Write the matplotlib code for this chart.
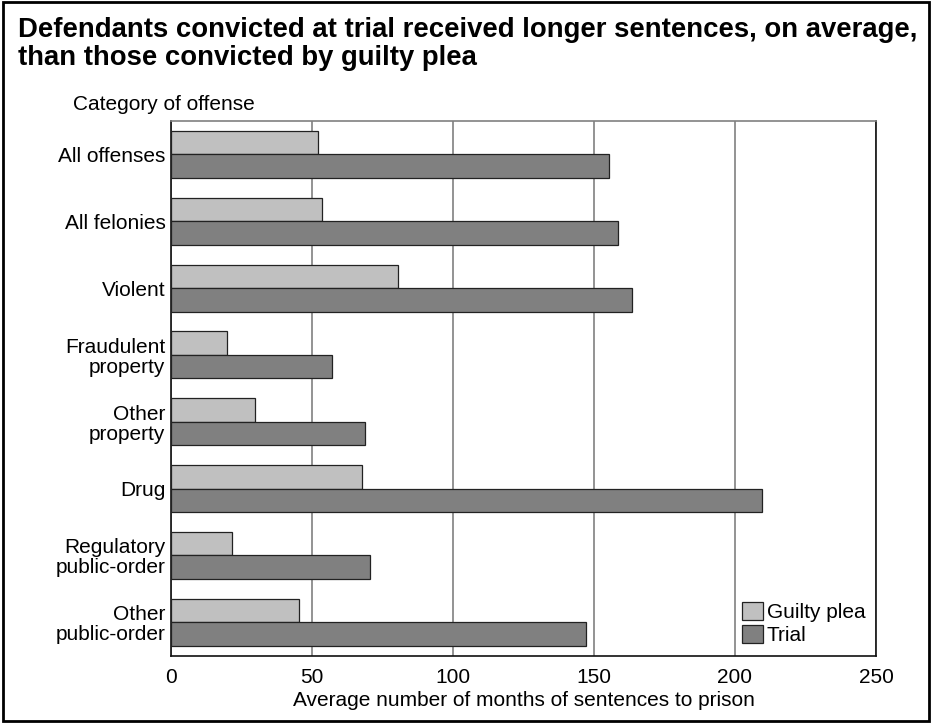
import numpy as np
import matplotlib
matplotlib.use('Agg')
import matplotlib.pyplot as plt
from matplotlib.patches import Rectangle

plt.rcParams['font.family'] = ['Liberation Sans', 'DejaVu Sans']

categories = ['All offenses', 'All felonies', 'Violent', 'Fraudulent\nproperty',
              'Other\nproperty', 'Drug', 'Regulatory\npublic-order', 'Other\npublic-order']
guilty_plea = [52.2, 53.7, 80.4, 20.0, 29.8, 67.9, 21.7, 45.5]
trial = [155.4, 158.5, 163.4, 57.0, 68.7, 209.6, 70.7, 147.3]
xticks = [0, 50, 100, 150, 200, 250]

fs = 15

fig = plt.figure(figsize=(9.32, 7.23), dpi=100)
ax = fig.add_axes([0.1835, 0.0931, 0.7564, 0.7395])

y = np.arange(len(categories))
h = 0.352
ax.barh(y - h/2, guilty_plea, height=h, color='#c0c0c0', edgecolor='#222222',
        linewidth=0.9, label='Guilty plea', zorder=3)
ax.barh(y + h/2, trial, height=h, color='#808080', edgecolor='#222222',
        linewidth=0.9, label='Trial', zorder=3)

ax.set_xlim(0, 250)
ax.set_ylim(len(categories) - 0.5, -0.5)
ax.set_xticks(xticks)
ax.set_yticks(y)
ax.set_yticklabels(categories, fontsize=fs)
for lab in ax.get_yticklabels():
    lab.set_linespacing(1.05)
ax.tick_params(axis='both', length=0, labelsize=fs)
ax.tick_params(axis='y', pad=4)
ax.tick_params(axis='x', pad=9)
ax.xaxis.grid(True, color='#808080', linewidth=1.2, zorder=0)
ax.set_axisbelow(True)

for side in ['left', 'bottom', 'right']:
    ax.spines[side].set_color('#111111')
    ax.spines[side].set_linewidth(1.2)
ax.spines['top'].set_color('#808080')
ax.spines['top'].set_linewidth(1.2)

ax.set_xlabel('Average number of months of sentences to prison', fontsize=fs, labelpad=3)

ax.legend(loc='lower right', frameon=False, fontsize=fs, handlelength=1.0,
          handleheight=0.9, handletextpad=0.2, labelspacing=0.15,
          borderaxespad=0.3, borderpad=0.2)

fig.text(0.078, 0.855, 'Category of offense', fontsize=fs, va='center', ha='left')
fig.text(0.019, 0.939, 'Defendants convicted at trial received longer sentences, on average,\n'
         'than those convicted by guilty plea', fontsize=19.8, fontweight='bold',
         va='center', ha='left', linespacing=1.12)

fig.patches.append(Rectangle((0.003, 0.003), 0.994, 0.994, transform=fig.transFigure,
                             fill=False, edgecolor='black', linewidth=2))

fig.savefig('out.png', dpi=100)
